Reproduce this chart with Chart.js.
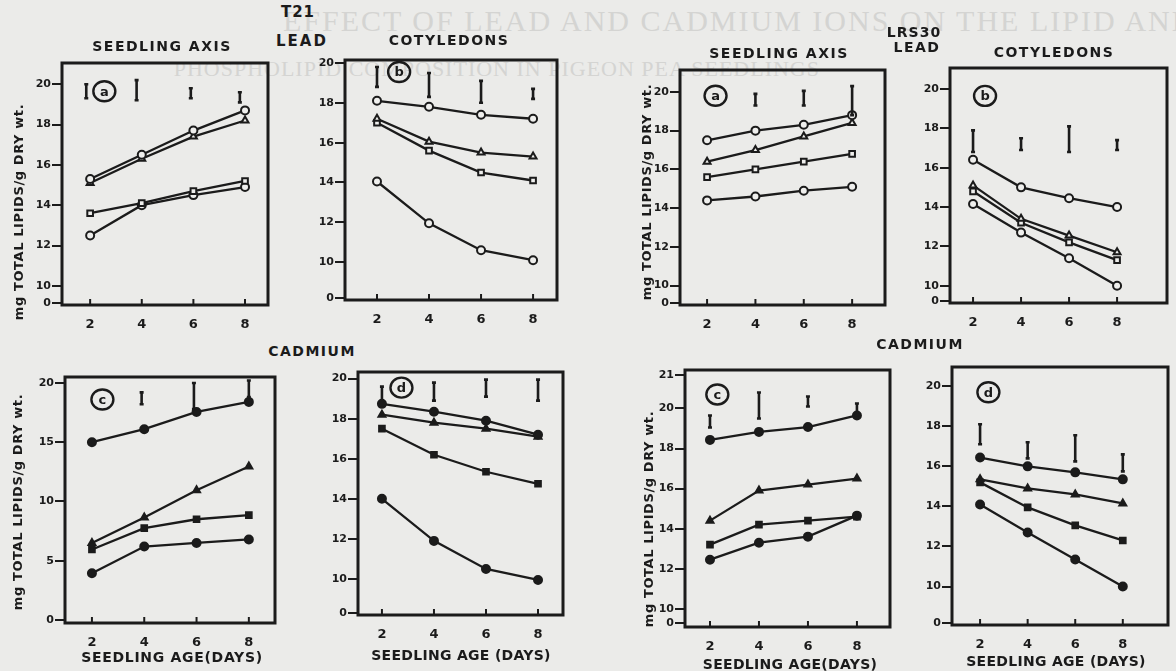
<!DOCTYPE html>
<html>
<head>
<meta charset="utf-8">
<script src="https://cdn.jsdelivr.net/npm/chart.js@4.4.0/dist/chart.umd.min.js"></script>
<style>
  body { margin:0; background:#ebebe9; }
  #page { position:relative; width:1176px; height:671px; overflow:hidden; background:#ebebe9; }
  .panel { position:absolute; }
  .lbl { position:absolute; transform:translate(-50%,-50%); font-family:"DejaVu Sans", sans-serif; font-weight:bold; color:#1b1b1b; white-space:nowrap; font-size:14px; letter-spacing:1.5px; }
  .ytitle { position:absolute; transform:translate(-50%,-50%) rotate(-90deg); font-family:"DejaVu Sans", sans-serif; font-weight:bold; color:#1b1b1b; white-space:nowrap; font-size:13px; letter-spacing:0.6px; }
  .ghost { position:absolute; font-family:"Liberation Serif", serif; color:#d4d4d2; white-space:nowrap; letter-spacing:2px; }
</style>
</head>
<body>
<div id="page">
  <div class="ghost" style="left:283px; top:4px; font-size:30px;">EFFECT OF LEAD AND CADMIUM IONS ON THE LIPID AND</div>
  <div class="ghost" style="right:356px; top:56px; font-size:22px; letter-spacing:1px;">PHOSPHOLIPID COMPOSITION IN PIGEON PEA SEEDLINGS</div>
</div>
<script>
const days = [2, 4, 6, 8];

// T21, lead, seedling axis (a)
const t21LeadAxis = [
  [15.3, 16.5, 17.7, 18.7],
  [15.1, 16.3, 17.4, 18.2],
  [13.6, 14.1, 14.7, 15.2],
  [12.5, 14.0, 14.5, 14.9]
];
const t21LeadAxisBars = [[1.85, 19.3, 20.0], [3.8, 19.2, 20.2], [5.9, 19.3, 19.8], [7.8, 19.1, 19.6]];

// T21, lead, cotyledons (b)
const t21LeadCot = [
  [18.1, 17.8, 17.4, 17.2],
  [17.2, 16.05, 15.5, 15.3],
  [17.0, 15.6, 14.5, 14.1],
  [14.05, 11.95, 10.6, 10.1]
];
const t21LeadCotBars = [[2, 18.8, 19.8], [4, 18.3, 19.5], [6, 18.0, 19.1], [8, 18.2, 18.7]];

// LRS30, lead, seedling axis (a)
const lrsLeadAxis = [
  [17.5, 18.0, 18.3, 18.8],
  [16.4, 17.0, 17.7, 18.4],
  [15.6, 16.0, 16.4, 16.8],
  [14.4, 14.6, 14.9, 15.1]
];
const lrsLeadAxisBars = [[4, 19.3, 19.9], [6, 19.3, 20.05], [8, 18.8, 20.3]];

// LRS30, lead, cotyledons (b)
const lrsLeadCot = [
  [16.4, 15.0, 14.45, 14.0],
  [15.1, 13.4, 12.55, 11.7],
  [14.8, 13.2, 12.2, 11.3],
  [14.15, 12.7, 11.4, 10.0]
];
const lrsLeadCotBars = [[2, 16.8, 17.9], [4, 16.9, 17.5], [6, 16.8, 18.1], [8, 16.9, 17.4]];

// T21, cadmium, seedling axis (c)
const t21CdAxis = [
  [15.0, 16.1, 17.55, 18.4],
  [6.5, 8.65, 10.95, 12.95],
  [5.95, 7.75, 8.5, 8.85],
  [3.95, 6.2, 6.5, 6.8]
];
const t21CdAxisBars = [[3.9, 18.2, 19.2], [5.9, 17.8, 20.0], [8, 18.8, 20.2]];

// T21, cadmium, cotyledons (d)
const t21CdCot = [
  [18.74, 18.35, 17.9, 17.2],
  [18.2, 17.8, 17.5, 17.1],
  [17.5, 16.2, 15.35, 14.75],
  [14.0, 11.9, 10.5, 9.95]
];
const t21CdCotBars = [[2, 18.9, 19.6], [4, 18.9, 19.8], [6, 19.1, 19.95], [8, 18.9, 19.95]];

// LRS30, cadmium, seedling axis (c)
const lrsCdAxis = [
  [18.43, 18.83, 19.07, 19.65],
  [14.4, 15.9, 16.2, 16.5],
  [13.2, 14.2, 14.4, 14.6],
  [12.45, 13.3, 13.6, 14.65]
];
const lrsCdAxisBars = [[2, 19.05, 19.65], [4, 19.5, 20.8], [6, 20.1, 20.6], [8, 19.65, 20.25]];

// LRS30, cadmium, cotyledons (d)
const lrsCdCot = [
  [16.44, 16.0, 15.7, 15.35],
  [15.35, 14.9, 14.6, 14.15],
  [15.2, 13.95, 13.05, 12.3],
  [14.1, 12.7, 11.35, 10.0]
];
const lrsCdCotBars = [[2, 17.1, 18.1], [4, 16.4, 17.2], [6, 16.25, 17.55], [8, 15.75, 16.6]];

// y tick values and their printed labels (axes are broken: "0" sits just under 10)
const brokenTicksA = [9.15, 10, 12, 14, 16, 18, 20];
const brokenTicksB = [8.2, 10, 12, 14, 16, 18, 20];
const brokenTicksC = [9.1, 10, 12, 14, 16, 18, 20];
const brokenTicksD = [9.2, 10, 12, 14, 16, 18, 20];
const brokenTicksF = [8.3, 10, 12, 14, 16, 18, 20];
const brokenTicksG = [9.28, 10, 12, 14, 16, 18, 20, 21.68];
const brokenTicksH = [8.17, 10, 12, 14, 16, 18, 20];
const brokenLabels = ['0', '10', '12', '14', '16', '18', '20'];
const brokenLabelsG = ['0', '10', '12', '14', '16', '18', '20', '21'];
const fullTicks = [0, 5, 10, 15, 20];
const fullLabels = ['0', '5', '10', '15', '20'];

const markers = ['circle', 'triangle', 'rect', 'circle'];
const ink = '#1b1b1b';
const paper = '#efefed';

const page = document.getElementById('page');

function panel(box, xr, yr, series, bars, yTicks, yLabels, letter, letterAt, filled) {
  const div = document.createElement('div');
  div.className = 'panel';
  div.style.left = (box[0] - 40) + 'px';
  div.style.top = (box[1] - 10) + 'px';
  div.style.width = (box[2] - box[0] + 50) + 'px';
  div.style.height = (box[3] - box[1] + 35) + 'px';
  const cv = document.createElement('canvas');
  div.appendChild(cv);
  page.appendChild(div);

  const deco = {
    id: 'deco',
    afterDraw(chart) {
      const ctx = chart.ctx, a = chart.chartArea;
      const xs = chart.scales.x, ys = chart.scales.y;
      ctx.save();
      ctx.strokeStyle = ink;
      ctx.lineWidth = 3;
      ctx.strokeRect(a.left, a.top, a.right - a.left, a.bottom - a.top);
      // small inner ticks on the day axis
      ctx.lineWidth = 2;
      days.forEach(d => {
        const px = xs.getPixelForValue(d);
        ctx.beginPath(); ctx.moveTo(px, a.bottom); ctx.lineTo(px, a.bottom - 6); ctx.stroke();
      });
      // LSD bars
      ctx.lineWidth = 2.6;
      bars.forEach(b => {
        const px = xs.getPixelForValue(b[0]);
        const y1 = ys.getPixelForValue(b[1]), y2 = ys.getPixelForValue(b[2]);
        ctx.beginPath();
        ctx.moveTo(px, y1); ctx.lineTo(px, y2);
        ctx.moveTo(px - 2, y1); ctx.lineTo(px + 2, y1);
        ctx.moveTo(px - 2, y2); ctx.lineTo(px + 2, y2);
        ctx.stroke();
      });
      // circled panel letter
      const lx = xs.getPixelForValue(letterAt[0]), ly = ys.getPixelForValue(letterAt[1]);
      ctx.lineWidth = 2.4;
      ctx.beginPath(); ctx.ellipse(lx, ly, 11, 10, 0, 0, Math.PI * 2); ctx.stroke();
      ctx.fillStyle = ink;
      ctx.font = 'bold 13px "DejaVu Sans"';
      ctx.textAlign = 'center'; ctx.textBaseline = 'middle';
      ctx.fillText(letter, lx, ly + 1);
      ctx.restore();
    }
  };

  new Chart(cv, {
    type: 'line',
    data: {
      datasets: series.map((s, i) => ({
        data: s.map((v, j) => ({ x: days[j], y: v })),
        borderColor: ink,
        borderWidth: 2.3,
        pointStyle: markers[i],
        pointRadius: 4,
        pointBorderWidth: 2,
        pointBorderColor: ink,
        pointBackgroundColor: filled ? ink : paper,
        tension: 0
      }))
    },
    options: {
      responsive: true,
      maintainAspectRatio: false,
      animation: false,
      layout: { padding: { top: 10, right: 10, left: 0, bottom: 0 } },
      plugins: { legend: { display: false }, tooltip: { enabled: false } },
      scales: {
        x: {
          type: 'linear', min: xr[0], max: xr[1],
          afterBuildTicks: s => { s.ticks = days.map(v => ({ value: v })); },
          afterFit: s => { s.height = 35; },
          grid: { display: false },
          border: { display: false },
          ticks: { color: ink, font: { family: 'DejaVu Sans', weight: 'bold', size: 13 }, padding: 4, autoSkip: false, maxRotation: 0 }
        },
        y: {
          type: 'linear', min: yr[0], max: yr[1],
          afterBuildTicks: s => { s.ticks = yTicks.map(v => ({ value: v })); },
          afterFit: s => { s.width = 40; },
          grid: { drawOnChartArea: false, drawTicks: true, tickLength: 10, color: ink, lineWidth: 2 },
          border: { display: false },
          ticks: { color: ink, font: { family: 'DejaVu Sans', weight: 'bold', size: 11 }, padding: 1, autoSkip: false,
                   callback: (v, i) => yLabels[i] }
        }
      }
    },
    plugins: [deco]
  });
}

panel([62, 63, 268, 315], [0.91, 8.89], [9.05, 21.05], t21LeadAxis, t21LeadAxisBars, brokenTicksA, brokenLabels, 'a', [2.55, 19.65], false);
panel([345, 60, 557, 310], [0.77, 8.92], [8.1, 20.15], t21LeadCot, t21LeadCotBars, brokenTicksB, brokenLabels, 'b', [2.85, 19.55], false);
panel([680, 70, 885, 315], [0.88, 9.36], [9.0, 21.13], lrsLeadAxis, lrsLeadAxisBars, brokenTicksC, brokenLabels, 'a', [2.35, 19.8], false);
panel([950, 68, 1167, 313], [1.04, 10.08], [9.12, 21.07], lrsLeadCot, lrsLeadCotBars, brokenTicksD, brokenLabels, 'b', [2.5, 19.65], false);
panel([65, 377, 275, 633], [0.97, 9.0], [-0.25, 20.5], t21CdAxis, t21CdAxisBars, fullTicks, fullLabels, 'c', [2.4, 18.6], true);
panel([358, 372, 563, 625], [1.08, 8.96], [8.2, 20.33], t21CdCot, t21CdCotBars, brokenTicksF, brokenLabels, 'd', [2.75, 19.55], true);
panel([685, 370, 890, 637], [0.98, 9.35], [9.09, 21.92], lrsCdAxis, lrsCdAxisBars, brokenTicksG, brokenLabelsG, 'c', [2.3, 20.7], true);
panel([952, 367, 1168, 635], [0.82, 9.9], [8.08, 20.96], lrsCdCot, lrsCdCotBars, brokenTicksH, brokenLabels, 'd', [2.35, 19.7], true);

function label(text, x, y, cls, size, spacing) {
  const d = document.createElement('div');
  d.className = cls || 'lbl';
  d.textContent = text;
  d.style.left = x + 'px';
  d.style.top = y + 'px';
  if (size) d.style.fontSize = size + 'px';
  if (spacing !== undefined) d.style.letterSpacing = spacing + 'px';
  page.appendChild(d);
}

label('T21', 298, 12, null, 15, 1);
label('LEAD', 302, 41, null, 15, 2);
label('SEEDLING AXIS', 162, 46);
label('COTYLEDONS', 449, 40);
label('SEEDLING AXIS', 779, 53);
label('LRS30', 914, 32, null, 14, 1);
label('LEAD', 917, 47, null, 14, 1.5);
label('COTYLEDONS', 1054, 52);
label('CADMIUM', 312, 351);
label('CADMIUM', 920, 344);
label('SEEDLING AGE(DAYS)', 172, 657, null, 14, 0.7);
label('SEEDLING AGE (DAYS)', 461, 655, null, 14, 0.3);
label('SEEDLING AGE(DAYS)', 790, 664, null, 14, 0.3);
label('SEEDLING AGE (DAYS)', 1056, 661, null, 14, 0.3);
label('mg TOTAL LIPIDS/g DRY wt.', 18, 212, 'ytitle');
label('mg TOTAL LIPIDS/g DRY wt.', 646, 192, 'ytitle');
label('mg TOTAL LIPIDS/g DRY wt.', 17, 502, 'ytitle');
label('mg TOTAL LIPIDS/g DRY wt.', 648, 519, 'ytitle');
</script>
</body>
</html>
